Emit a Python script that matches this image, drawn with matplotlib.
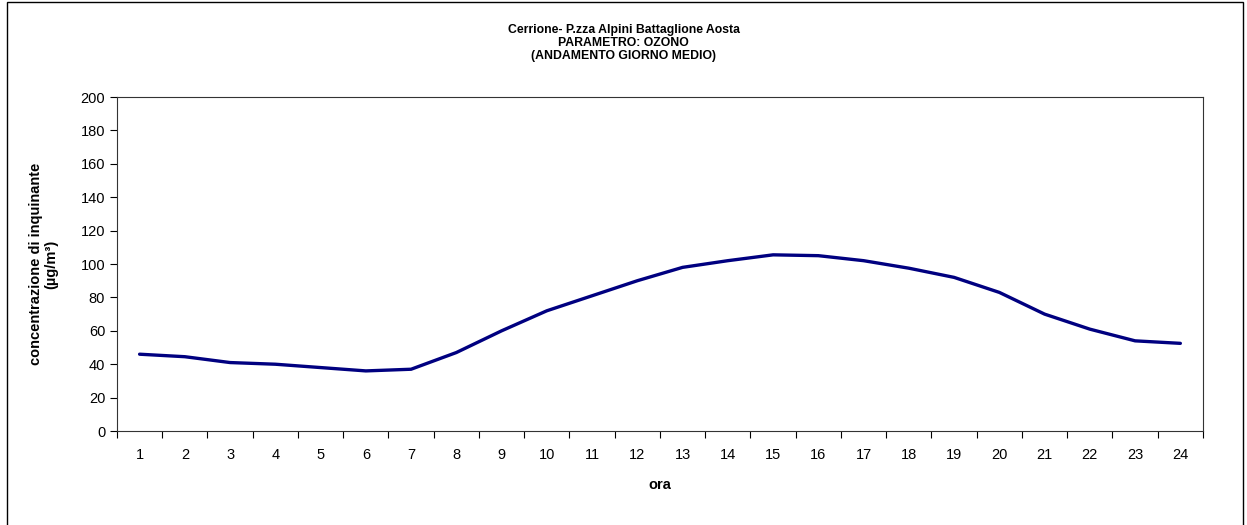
import numpy as np
import matplotlib.pyplot as plt
from matplotlib.patches import Rectangle

plt.rcParams['font.family'] = ['Liberation Sans', 'DejaVu Sans']

ore = list(range(1, 25))
ozono = [46, 44.5, 41, 40, 38, 36, 37, 47, 60, 72, 81, 90, 98, 102, 105.5, 105,
         102, 97.5, 92, 83, 70, 61, 54, 52.5]
yticks = list(range(0, 201, 20))

fig = plt.figure(figsize=(12.47, 5.25), dpi=100)
ax = fig.add_axes([0.0938, 0.179, 0.8709, 0.6362])

ax.plot(ore, ozono, color='#000080', lw=2.4, solid_capstyle='round')

ax.set_xlim(0.5, 24.5)
ax.set_ylim(0, 200)
ax.set_yticks(yticks)
ax.set_xticks(ore)
ax.set_xticks(np.arange(0.5, 25, 1), minor=True)
ax.tick_params(axis='x', which='major', length=0, pad=12, labelsize=10.5)
ax.tick_params(axis='x', which='minor', length=5, width=0.8)
ax.tick_params(axis='y', length=5, width=0.8, labelsize=10.5)
for s in ax.spines.values():
    s.set_linewidth(0.8)
    s.set_color('#333333')

ax.set_xlabel('ora', fontsize=10.5, fontweight='bold', labelpad=12)
ax.set_ylabel('concentrazione di inquinante\n(µg/m³)', fontsize=10.5,
              fontweight='bold', labelpad=16, linespacing=1.1)

fig.text(0.5, 0.918, 'Cerrione- P.zza Alpini Battaglione Aosta\nPARAMETRO: OZONO\n(ANDAMENTO GIORNO MEDIO)',
         ha='center', va='center', fontsize=8.8, fontweight='bold', linespacing=1.15)

# chart area border (bottom edge falls outside the image, as in the original)
fig.patches.append(Rectangle((0.0056, -0.01), 0.991, 1.006, transform=fig.transFigure,
                             fill=False, edgecolor='black', lw=1))

fig.savefig('out.png', dpi=100)
